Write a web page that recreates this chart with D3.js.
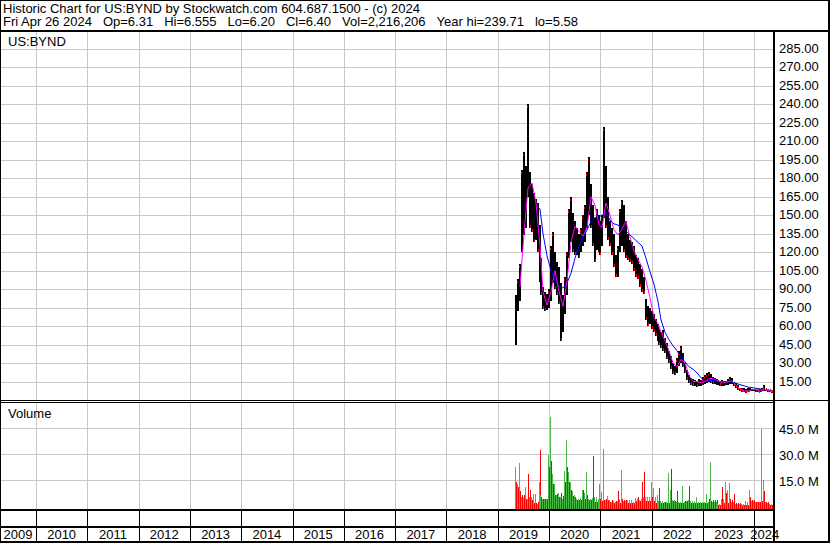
<!DOCTYPE html>
<html>
<head>
<meta charset="utf-8">
<script src="https://cdnjs.cloudflare.com/ajax/libs/d3/7.8.5/d3.min.js"></script>
<style>
body { margin: 0; background: #fff; }
svg { display: block; }
text { font-family: "Liberation Sans", Arial, sans-serif; fill: #000; }
</style>
</head>
<body>
<div id="chart"></div>
<script>
// datos (barras cada 2 semanas desde 2019-05-03)
var primeraBarra = new Date(2019, 4, 3);
var hi = [85,98,110,187,201,190,240,185,175,168,163,160,142,115,92,88,86,90,125,136,
          120,112,108,95,85,100,120,155,165,152,145,140,135,140,150,158,185,197,175,158,
          148,155,150,145,150,222,190,165,145,140,135,118,125,155,162,158,145,135,130,128,
          125,118,115,110,106,100,82,76,75,72,70,66,62,58,55,57,50,46,40,36,
          30,28,34,40,44,38,30,24,20,18,17,16,15,17,16,19,20,22,23,21,
          19,18,17,16,15,16,15,15,17,19,18,15,14,12,10,9.5,10,9,9.5,10,
          9,9,8.5,8.5,9,10,12.5,9,8,7.5,6.8];
var lo = [45,72,80,120,134,140,165,140,136,128,130,120,96,85,74,72,73,75,80,95,
          90,85,78,48,55,70,85,115,128,120,118,118,115,120,125,128,140,150,140,125,
          112,122,120,118,125,148,140,130,125,118,108,100,100,120,125,120,115,114,112,110,
          105,100,98,92,88,86,65,60,62,58,55,52,48,45,42,40,38,33,30,25,
          21,20,22,28,30,27,22,16,14,12,11,11,10.5,11,11,12,13,14,15,14,
          13,13,12,12,11,11,11,12,12,13,13,11,10,8,7,6.5,6.5,6,6.5,7,
          7,7,6.8,6.5,6.5,7,7.5,7,6.5,6.2,6.0];
// medias moviles, una cada 2 barras
var maCortaInicio = 2;
var maCorta = [92,135,172,176,160,125,88,77,88,105,88,76,97,128,141,137,133,140,165,158,
               142,140,160,150,138,134,139,145,132,121,114,108,97,83,67,62,55,48,40,30,
               27,33,30,20,15,15,14,15,17.5,17.5,16,15,14,15,15.5,12,9,7.5,7,8.5,
               8.5,8,8.5,8,7];
var maLargaInicio = 10;
var maLarga = [158,155,135,117,105,97,92,91,95,103,115,125,132,138,145,148,149,150,152,146,
               143,142,140,137,134,131,128,125,115,104,94,80,65,55,49,44,40,35,31,27,
               25,22,18,16,16,16,15.5,15,15,15,14.5,13.5,12.5,11.5,10.5,10,9.5,9,8.5,8,
               7.5];
// volumen en millones: sube (verde) y baja (rojo)
var volSube = [22.9,13,25,5.5,5,11,4,5.5,5.5,7,7,1.5,14.3,6.7,4.5,4.5,4,29.6,51.3,18.5,
               13,6.5,7.5,5.5,4.5,20.4,38.3,20,14.3,9,6.5,4.5,4,5,9.4,7.5,20,4.5,4,5,
               5.5,5.5,4.5,13,8,32.9,3.5,5.8,3.6,2.5,3,2.5,3,4,20.8,3,3,3.6,3.6,3.6,
               2.5,5,4.5,3.6,4.5,5.2,5.2,5.5,5.5,14.3,10.7,5.5,6.7,3,3.2,3.2,2.5,2.5,19.5,9.4,
               3.6,3.6,2.5,2.5,2.5,11.8,2.5,3,3.6,3,3,3,5.5,2.5,2.5,2.5,2.5,7.3,2.5,25.3,
               2.5,2.5,2.5,1.5,1.5,4.5,4.5,14.3,9.4,13.7,2.5,2.5,1.5,1.5,1.5,1.5,1.5,3.3,2.5,9.4,
               2.8,2.8,2.5,2.5,2.5,44.6,15.2,2.5,2,1.5,1.5];
var volBaja = [14.3,11,8.7,6.7,6.5,4,18.5,9.4,3.6,2,1.7,2.5,32.5,5.5,4.5,4.5,4.5,22.9,26,13,
               6.7,7,5.5,7.5,6,14,22.7,14.3,9.4,6,5.5,3.6,3.6,3.6,9.4,4,6.7,3.6,3.6,29.3,
               2.5,2.5,4.5,4.5,3,3.6,4.5,3.6,2.5,3.6,2,3,8.7,2,4.5,3.6,3.6,1.7,1.7,2,
               1.7,3,5.2,3,14,20,3.2,3.2,3,5.5,3.2,2,2,10.7,2,2,2.5,2,2,21.4,
               3,3,8.7,2,2,2,3,3,11.8,1.7,1.7,1.7,1.7,1.7,1.7,1.7,1.7,1.7,4.5,3,
               3.6,3.6,3.6,0.8,0.8,11.2,2,7.5,2,4.5,3.6,7.1,1.7,1.7,1.7,1,1,1,1,5.5,
               3.6,3.6,2.5,2.5,2.5,3,9,2.5,2.5,1,1];
var anios = d3.range(2009, 2025);
var ticksPrecio = d3.range(15, 286, 15);
var ticksVol = [15, 30, 45];
var titulo = "Historic Chart for US:BYND by Stockwatch.com 604.687.1500 - (c) 2024";
var resumen = ["Fri Apr 26 2024", "Op=6.31", "Hi=6.555", "Lo=6.20", "Cl=6.40", "Vol=2,216,206", "Year hi=239.71", "lo=5.58"];

var _b = 830, _h = 543;
var derecha = 773;          // borde derecho del area de dibujo
var pArriba = 32, pAbajo = 400, vArriba = 402, vAbajo = 509;
var colorVerde = '#4cb848', colorRojo = '#ff0000', colorRejilla = '#c8c8c8';

var svg = d3.select("#chart").append("svg").attr("width", _b).attr("height", _h);
svg.append("rect").attr("width", _b).attr("height", _h).attr("fill", "#fff");

var x = d3.scaleTime().domain([new Date(2010, 0, 1), new Date(2024, 0, 1)]).range([36, 754.3]);
var yP = d3.scaleLinear().domain([0, 285]).range([400, 48.9]);
var yV = d3.scaleLinear().domain([0, 45]).range([506.3, 428.3]);
function fechaBarra(i) { return d3.timeDay.offset(primeraBarra, 14 * i); }
function xBarra(i) { return Math.round(x(fechaBarra(i))); }
function px(v) { return Math.round(v) + 0.5; }

// rejilla
var limites = anios.slice(1).map(function (a) { return px(x(new Date(a, 0, 1))); });
var rej = svg.append("g").attr("stroke", colorRejilla).attr("stroke-width", 1);
limites.forEach(function (lx) {
    rej.append("line").attr("x1", lx).attr("x2", lx).attr("y1", pArriba).attr("y2", pAbajo);
    rej.append("line").attr("x1", lx).attr("x2", lx).attr("y1", vArriba).attr("y2", vAbajo);
});
ticksPrecio.forEach(function (t) {
    rej.append("line").attr("x1", 0).attr("x2", derecha).attr("y1", px(yP(t))).attr("y2", px(yP(t)));
});
ticksVol.forEach(function (t) {
    rej.append("line").attr("x1", 0).attr("x2", derecha).attr("y1", px(yV(t))).attr("y2", px(yV(t)));
});

// barras de precio
var gP = svg.append("g");
hi.forEach(function (h, i) {
    var bx = xBarra(i);
    var y1 = Math.round(yP(h)), y2 = Math.round(yP(lo[i]));
    gP.append("rect").attr("x", bx).attr("y", y1).attr("width", 2).attr("height", Math.max(1, y2 - y1)).attr("fill", "#000");
    if (i > 0 && lo[i] < lo[i - 1]) {
        gP.append("rect").attr("x", bx + 1).attr("y", y2 - 3).attr("width", 1).attr("height", 3).attr("fill", colorRojo);
    }
    if (i > 0 && h > hi[i - 1]) {
        gP.append("rect").attr("x", bx).attr("y", y1 + 2).attr("width", 1).attr("height", 2).attr("fill", colorRojo);
    }
});

// medias moviles
var linea = d3.line().x(function (d) { return xBarra(d.i) + 1; }).y(function (d) { return yP(d.v); });
var puntosCorta = maCorta.map(function (v, k) { return { i: maCortaInicio + 2 * k, v: v }; });
var puntosLarga = maLarga.map(function (v, k) { return { i: maLargaInicio + 2 * k, v: v }; });
svg.append("path").attr("d", linea(puntosLarga)).attr("fill", "none").attr("stroke", "#0000ff").attr("stroke-width", 1);
svg.append("path").attr("d", linea(puntosCorta)).attr("fill", "none").attr("stroke", "#ff00ff").attr("stroke-width", 1);

// volumen
var gV = svg.append("g");
volSube.forEach(function (v, i) {
    var bx = xBarra(i);
    var ys = Math.round(yV(v)), yb = Math.round(yV(volBaja[i]));
    gV.append("rect").attr("x", bx).attr("y", ys).attr("width", 1).attr("height", vAbajo - ys).attr("fill", colorVerde);
    gV.append("rect").attr("x", bx + 1).attr("y", yb).attr("width", 1).attr("height", vAbajo - yb).attr("fill", colorRojo);
});

// bordes y lineas negras
var neg = svg.append("g").attr("fill", "#000");
neg.append("rect").attr("x", 0).attr("y", 0).attr("width", _b).attr("height", 1);
neg.append("rect").attr("x", 0).attr("y", 0).attr("width", 1).attr("height", _h);
neg.append("rect").attr("x", _b - 2).attr("y", 0).attr("width", 2).attr("height", _h);
neg.append("rect").attr("x", 0).attr("y", _h - 2).attr("width", _b).attr("height", 2);
neg.append("rect").attr("x", 0).attr("y", 30).attr("width", _b).attr("height", 2);
neg.append("rect").attr("x", derecha).attr("y", pArriba).attr("width", 2).attr("height", _h - pArriba);
neg.append("rect").attr("x", 0).attr("y", 400).attr("width", _b).attr("height", 1);
neg.append("rect").attr("x", 0).attr("y", 402).attr("width", derecha).attr("height", 1);
neg.append("rect").attr("x", 0).attr("y", vAbajo).attr("width", derecha).attr("height", 2);
neg.append("rect").attr("x", 0).attr("y", 526).attr("width", derecha).attr("height", 2);
limites.forEach(function (lx) {
    neg.append("rect").attr("x", lx - 0.5).attr("y", vAbajo + 2).attr("width", 1).attr("height", 526 - vAbajo - 2);
    neg.append("rect").attr("x", lx - 0.5).attr("y", 528).attr("width", 1).attr("height", 13);
});

// textos
svg.append("text").attr("x", 3).attr("y", 12.5).style("font-size", "13px").text(titulo);
// segunda linea: cada dato a continuacion del anterior, separados unos 11 px
var xr = 3;
resumen.forEach(function (d) {
    var t = svg.append("text").attr("x", xr).attr("y", 26).style("font-size", "13px").text(d);
    xr += t.node().getComputedTextLength() + 11;
});
svg.append("text").attr("x", 8).attr("y", 46).style("font-size", "13px").text("US:BYND");
svg.append("text").attr("x", 8).attr("y", 418).style("font-size", "13px").text("Volume");

svg.append("g").selectAll("text").data(ticksPrecio).enter().append("text")
    .attr("x", 779).attr("y", function (d) { return px(yP(d)) + 3; })
    .style("font-size", "13px").text(function (d) { return d3.format(".2f")(d); });
svg.append("g").selectAll("text").data(ticksVol).enter().append("text")
    .attr("x", 779).attr("y", function (d) { return px(yV(d)) + 5; })
    .style("font-size", "13px").text(function (d) { return d3.format(".1f")(d) + " M"; });

svg.append("g").selectAll("text").data(anios).enter().append("text")
    .attr("x", function (a) {
        var a0 = Math.max(0, x(new Date(a, 0, 1)));
        var a1 = Math.min(derecha + 2, x(new Date(a + 1, 0, 1)));
        return (a0 + a1) / 2;
    })
    .attr("y", 538.5).attr("text-anchor", "middle").style("font-size", "13px")
    .text(function (a) { return a; });
</script>
</body>
</html>
